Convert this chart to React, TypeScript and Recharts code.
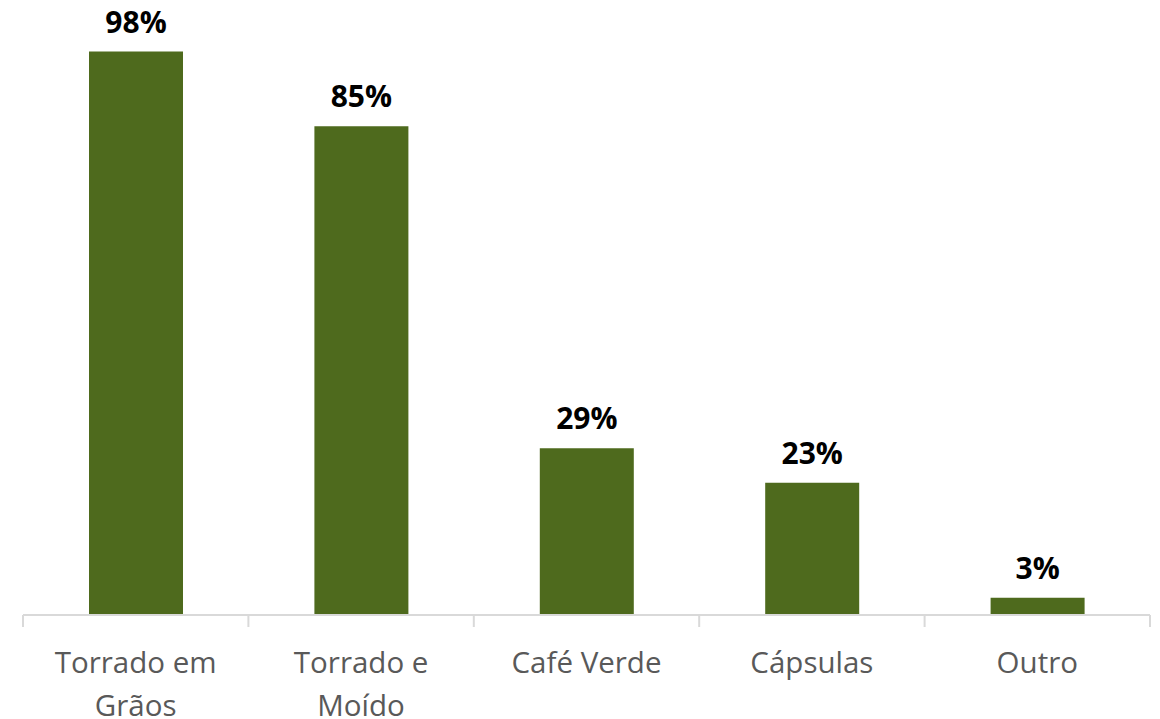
import React from "react";
import { BarChart, Bar, XAxis, YAxis, LabelList } from "recharts";

const categories = ["Torrado em Grãos", "Torrado e Moído", "Café Verde", "Cápsulas", "Outro"];
const tickLines: string[][] = [["Torrado em", "Grãos"], ["Torrado e", "Moído"], ["Café Verde"], ["Cápsulas"], ["Outro"]];
const values = [98, 85, 29, 23, 3];

const data = categories.map((c, i) => ({ name: c, value: values[i], lines: tickLines[i] }));

const FONT = "'Open Sans', 'Noto Sans', sans-serif";

const CustomTick = (props: any) => {
  const { x, y, payload, width, visibleTicksCount, index } = props;
  const band = width / visibleTicksCount;
  const lines = tickLines[index] || [payload.value];
  const axisY = y - 8;
  return (
    <g>
      <line x1={x - band / 2} x2={x - band / 2} y1={axisY} y2={axisY + 12} stroke="#D9D9D9" strokeWidth={2} />
      {index === visibleTicksCount - 1 && (
        <line x1={x + band / 2} x2={x + band / 2} y1={axisY} y2={axisY + 12} stroke="#D9D9D9" strokeWidth={2} />
      )}
      {lines.map((l: string, i: number) => (
        <text key={i} x={x} y={axisY + 58 + i * 43} textAnchor="middle" fill="#595959" fontSize={29.5} fontFamily={FONT}>
          {l}
        </text>
      ))}
    </g>
  );
};

const ValueLabel = (props: any) => {
  const { x, y, width, value } = props;
  return (
    <text x={x + width / 2} y={y - 19} textAnchor="middle" fill="#000" fontSize={30} fontWeight="bold" fontFamily={FONT}>
      {value}%
    </text>
  );
};

export default function App() {
  return (
    <div style={{ position: "absolute", left: 0, top: 0, width: 1160, height: 719, background: "#fff" }}>
      <BarChart width={1160} height={719} data={data} margin={{ top: 40, right: 10, left: 23, bottom: 0 }}>
        <YAxis hide domain={[0, 100]} />
        <XAxis
          dataKey="name"
          height={104}
          axisLine={{ stroke: "#D9D9D9", strokeWidth: 2 }}
          tickLine={false}
          tick={<CustomTick />}
          interval={0}
        />
        <Bar dataKey="value" fill="#4E6A1D" barSize={94} isAnimationActive={false}>
          <LabelList dataKey="value" content={<ValueLabel />} />
        </Bar>
      </BarChart>
    </div>
  );
}
